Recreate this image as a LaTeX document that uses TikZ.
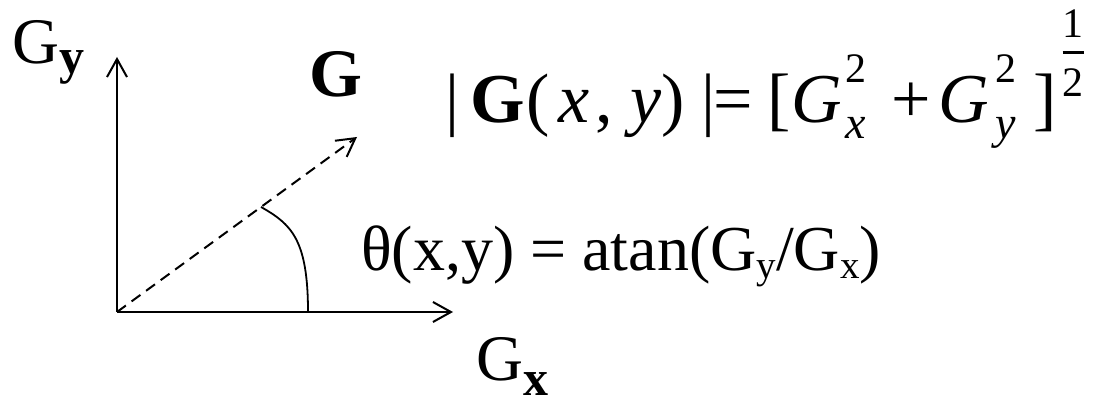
\documentclass[tikz,border=0pt]{standalone}
\usepackage{fontspec}
\setmainfont{Liberation Serif}
\usetikzlibrary{arrows.meta,calc}

\newcommand{\bigfs}{\fontsize{70}{80}\selectfont}
\newcommand{\labfs}{\fontsize{65}{70}\selectfont}
% lowered subscript: shift, size, text
\newcommand{\lowsub}[3]{\raisebox{#1}{\fontsize{#2}{#2}\selectfont #3}}
% stacked square and index
\newcommand{\supsub}[1]{\rlap{\lowsub{-16pt}{46}{\textit{#1}}}\raisebox{40pt}{\fontsize{42}{44}\selectfont 2}}
\newcommand{\halfexp}{\raisebox{85pt}{\fontsize{42}{44}\selectfont 1}\llap{\raisebox{69pt}{\rule{21pt}{2.5pt}}}\llap{\raisebox{26pt}{\fontsize{42}{44}\selectfont 2}}}

\begin{document}
\begin{tikzpicture}[x=1pt, y=1pt,
lbl/.style={inner sep=0pt, anchor=base west, font=\labfs},
eqn/.style={inner sep=0pt, anchor=base west, font=\bigfs},
axis/.style={line width=2pt, -{Straight Barb[length=18pt,width=20pt]}},
vec/.style={axis, dash pattern=on 11pt off 7pt},
ang/.style={line width=1.8pt}
]
\useasboundingbox (0,0) rectangle (1097,399);
\coordinate (O) at (117,87);
\coordinate (ytop) at (117,342);
\coordinate (xend) at (453,87);
\coordinate (gtip) at (357,262);
\coordinate (arcA) at ($(O)!0.6!(gtip)$);
\coordinate (arcB) at (308,87);
\draw[axis] (O) -- (ytop);
\draw[axis] (O) -- (xend);
\draw[vec] (O) -- (gtip);
\draw[ang] (arcA) .. controls +(30,-17) and +(0,73) .. (arcB);

\node[lbl] (gy) at (12,335) {G\lowsub{-10pt}{50}{\textbf{y}}};
\node[lbl, font=\fontsize{68}{72}\selectfont\bfseries] (g) at (309,302) {G};
\node[lbl] (gx) at (476,19) {G\lowsub{-15pt}{50}{\textbf{x}}};
\node[lbl, font=\fontsize{64}{68}\selectfont] (theta) at (361,128)
  {θ(x,y) = atan(G\lowsub{-8pt}{39}{y}/G\lowsub{-8pt}{39}{x})};
\node[eqn] (mag) at (445,276)
  {|\hspace{11.5pt}\textbf{G}\hspace{1.5pt}(\hspace{9pt}\textit{x}\hspace{5pt}, \textit{y})\hspace{17.5pt}|\hspace{-3pt}=\hspace{15.5pt}[\textit{G}\hspace{4pt}\supsub{x}\hspace{25pt}+\hspace{7.5pt}\textit{G}\hspace{6.5pt}\supsub{y}\hspace{16.5pt}]\hspace{6pt}\halfexp};
\end{tikzpicture}
\end{document}
